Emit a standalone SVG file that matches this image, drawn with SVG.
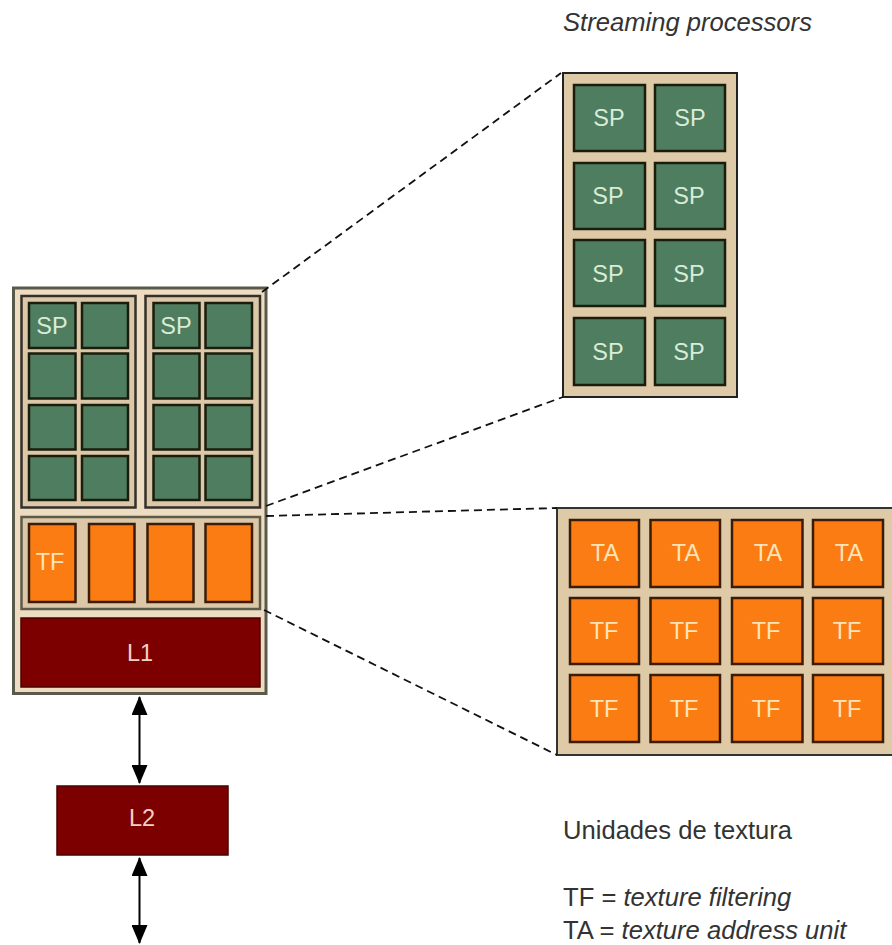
<svg xmlns="http://www.w3.org/2000/svg" width="892" height="945" viewBox="0 0 892 945">
<defs>
<marker id="ah" viewBox="0 0 19 16" refX="18" refY="8" markerWidth="19" markerHeight="16" markerUnits="userSpaceOnUse" orient="auto-start-reverse"><path d="M0 0L19 8L0 16Z" fill="#000"/></marker>
</defs>
<style>
text{font-family:"Liberation Sans",Arial,sans-serif}
.panel{fill:#dfcaa8;stroke:#222;stroke-width:2}
.outer{fill:#eedcc2;stroke:#5a5a4a;stroke-width:3}
.sub{fill:#dcc8a8;stroke:#33302a;stroke-width:2.500}
.sp{fill:#4f7d60;stroke:#1a1c0c;stroke-width:2.500}
.tx{fill:#fb7c12;stroke:#3a1c08;stroke-width:2.500}
.red{fill:#7d0000;stroke:#4c0000;stroke-width:1.500}
.l{font-size:23.500px;text-anchor:middle}
.lg{fill:#d8ecd8}.lo{fill:#fde4b8}.lr{fill:#f4d0c8}
.cap{font-size:25.600px;fill:#333}
.dash{fill:none;stroke:#111;stroke-width:1.800;stroke-dasharray:8 5}
.arr{fill:none;stroke:#000;stroke-width:2;marker-start:url(#ah);marker-end:url(#ah)}
</style>
<rect width="892" height="945" fill="#fff"/>
<g id="core">
<rect class="outer" x="13.500" y="288" width="252.500" height="405.500"/>
</g>
<g id="sp-group-1">
<rect class="sub" x="21.500" y="296" width="114" height="211.500"/>
<rect class="sp" x="29" y="303" width="46.500" height="45"/><rect class="sp" x="82" y="303" width="46" height="45"/>
<rect class="sp" x="29" y="353.500" width="46.500" height="45"/><rect class="sp" x="82" y="353.500" width="46" height="45"/>
<rect class="sp" x="29" y="405" width="46.500" height="44.500"/><rect class="sp" x="82" y="405" width="46" height="44.500"/>
<rect class="sp" x="29" y="456" width="46.500" height="44"/><rect class="sp" x="82" y="456" width="46" height="44"/>
<text class="l lg" x="52" y="334">SP</text>
</g>
<g id="sp-group-2">
<rect class="sub" x="145.500" y="296" width="114.500" height="211.500"/>
<rect class="sp" x="153.500" y="303" width="46" height="45"/><rect class="sp" x="205.500" y="303" width="46.500" height="45"/>
<rect class="sp" x="153.500" y="353.500" width="46" height="45"/><rect class="sp" x="205.500" y="353.500" width="46.500" height="45"/>
<rect class="sp" x="153.500" y="405" width="46" height="44.500"/><rect class="sp" x="205.500" y="405" width="46.500" height="44.500"/>
<rect class="sp" x="153.500" y="456" width="46" height="44"/><rect class="sp" x="205.500" y="456" width="46.500" height="44"/>
<text class="l lg" x="176" y="334">SP</text>
</g>
<g id="tf-group">
<rect class="sub" x="21.500" y="517" width="238.500" height="92" style="stroke:#5c5a48"/>
<rect class="tx" x="29" y="524" width="46.500" height="78"/><rect class="tx" x="89" y="524" width="45.500" height="78"/>
<rect class="tx" x="147.500" y="524" width="46" height="78"/><rect class="tx" x="205.500" y="524" width="46.500" height="78"/>
<text class="l lo" x="50" y="570">TF</text>
</g>
<g id="l1">
<rect class="red" x="21" y="618" width="239" height="69"/>
<text class="l lr" x="140" y="661">L1</text>
</g>
<g id="l2">
<rect class="red" x="57" y="786" width="171" height="69"/>
<text class="l lr" x="142" y="826">L2</text>
</g>
<g id="streaming-processors">
<rect class="panel" x="563" y="73" width="174" height="324"/>
<rect class="sp" x="574" y="85" width="71" height="66"/><rect class="sp" x="655" y="85" width="70" height="66"/>
<rect class="sp" x="574" y="163" width="71" height="66"/><rect class="sp" x="655" y="163" width="70" height="66"/>
<rect class="sp" x="574" y="240" width="71" height="66"/><rect class="sp" x="655" y="240" width="70" height="66"/>
<rect class="sp" x="574" y="318" width="71" height="67"/><rect class="sp" x="655" y="318" width="70" height="67"/>
<g class="l lg">
<text x="609" y="126">SP</text><text x="690" y="126">SP</text>
<text x="608" y="204">SP</text><text x="689" y="204">SP</text>
<text x="608" y="282">SP</text><text x="689" y="282">SP</text>
<text x="608" y="360">SP</text><text x="689" y="360">SP</text>
</g>
</g>
<g id="texture-units">
<rect x="557" y="508" width="337" height="247" fill="#dfcaa8" stroke="#333" stroke-width="2"/>
<rect class="tx" x="570" y="520" width="69" height="67"/><rect class="tx" x="650.500" y="520" width="69.500" height="67"/><rect class="tx" x="732" y="520" width="70.500" height="67"/><rect class="tx" x="813" y="520" width="70" height="67"/>
<rect class="tx" x="570" y="598" width="69" height="66"/><rect class="tx" x="650.500" y="598" width="69.500" height="66"/><rect class="tx" x="732" y="598" width="70.500" height="66"/><rect class="tx" x="813" y="598" width="70" height="66"/>
<rect class="tx" x="570" y="675" width="69" height="67"/><rect class="tx" x="650.500" y="675" width="69.500" height="67"/><rect class="tx" x="732" y="675" width="70.500" height="67"/><rect class="tx" x="813" y="675" width="70" height="67"/>
<g class="l lo">
<text x="605" y="561">TA</text><text x="686" y="561">TA</text><text x="768" y="561">TA</text><text x="849" y="561">TA</text>
<text x="604" y="639">TF</text><text x="684" y="639">TF</text><text x="766" y="639">TF</text><text x="847" y="639">TF</text>
<text x="604" y="717">TF</text><text x="684" y="717">TF</text><text x="766" y="717">TF</text><text x="847" y="717">TF</text>
</g>
</g>
<g id="connectors">
<path class="dash" d="M262 292L561 73"/>
<path class="dash" d="M266 506L563 397"/>
<path class="dash" d="M266 516L557 508"/>
<path class="dash" d="M264 610L557 755"/>
<path class="arr" d="M139.500 697V783"/>
<path class="arr" d="M139.500 858V943"/>
</g>
<g id="captions" class="cap">
<text x="563" y="31" font-style="italic">Streaming processors</text>
<text x="563" y="839">Unidades de textura</text>
<text x="563" y="906">TF = <tspan font-style="italic">texture filtering</tspan></text>
<text x="563" y="939">TA = <tspan font-style="italic">texture address unit</tspan></text>
</g>
</svg>
